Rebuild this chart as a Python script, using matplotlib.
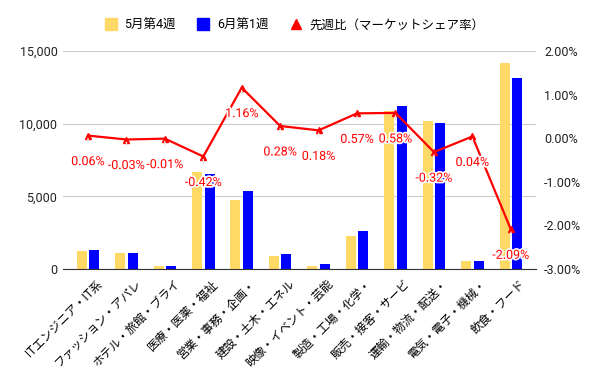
import matplotlib
matplotlib.use("Agg")
import matplotlib.pyplot as plt
import matplotlib.patheffects as pe
from matplotlib.lines import Line2D
from matplotlib.ticker import FuncFormatter, MultipleLocator
import numpy as np

plt.rcParams['font.family'] = ['Roboto', 'Noto Sans CJK JP', 'DejaVu Sans']

categories = ["ITエンジニア・IT系", "ファッション・アパレ", "ホテル・旅館・ブライ", "医療・医薬・福祉",
              "営業・事務・企画・", "建設・土木・エネル", "映像・イベント・芸能", "製造・工場・化学・",
              "販売・接客・サービ", "運輸・物流・配送・", "電気・電子・機械・", "飲食・フード"]
may_w4 = [1240, 1100, 200, 6680, 4750, 890, 210, 2270, 10870, 10180, 550, 14160]
jun_w1 = [1310, 1120, 220, 6540, 5370, 1030, 340, 2610, 11220, 10050, 550, 13120]
share_change = [0.06, -0.03, -0.01, -0.42, 1.16, 0.28, 0.18, 0.57, 0.58, -0.32, 0.04, -2.09]
series_names = ["5月第4週", "6月第1週", "先週比（マーケットシェア率）"]

c_yellow = "#FFD966"
c_blue = "#0000FF"
c_red = "#FF0000"

fig = plt.figure(figsize=(6, 3.71), dpi=100)
ax = fig.add_axes([0.105, 0.275, 0.788, 0.5875])
x = np.arange(len(categories))
w = 0.26
off = 0.163
ax.bar(x - off, may_w4, width=w, color=c_yellow, zorder=2)
ax.bar(x + off, jun_w1, width=w, color=c_blue, zorder=2)
ax.set_ylim(0, 15000)
ax.set_xlim(-0.65, len(categories) - 0.35)
ax.yaxis.set_major_locator(MultipleLocator(5000))
ax.yaxis.set_major_formatter(FuncFormatter(lambda v, p: f"{int(v):,}"))
ax.grid(axis='y', color='#cccccc', lw=0.8, zorder=0)
for s in ['top', 'right', 'left']:
    ax.spines[s].set_visible(False)
ax.spines['bottom'].set_color('#333333')
ax.spines['bottom'].set_zorder(3)
ax.tick_params(axis='y', length=0, labelsize=9, colors='#222222', pad=4)
ax.set_xticks(x)
ax.set_xticklabels(categories, rotation=45, ha='right', rotation_mode='anchor', fontsize=8.5)
ax.tick_params(axis='x', length=0, pad=6)
for lbl in ax.get_xticklabels():
    lbl.set_transform(lbl.get_transform() + matplotlib.transforms.ScaledTranslation(0.08, 0, fig.dpi_scale_trans))

ax2 = ax.twinx()
ax2.set_ylim(-3, 2)
ax2.yaxis.set_major_locator(MultipleLocator(1))
ax2.yaxis.set_major_formatter(FuncFormatter(lambda v, p: f"{v:.2f}%"))
ax2.tick_params(axis='y', length=0, labelsize=9, colors='#222222', pad=6)
for s in ['top', 'right', 'left', 'bottom']:
    ax2.spines[s].set_visible(False)
ax2.plot(x, share_change, color=c_red, lw=1.6, marker='^', ms=4, zorder=4)
for xi, v in zip(x, share_change):
    ax2.annotate(f"{v:.2f}%", xy=(xi, v), xytext=(0, -26), textcoords='offset pixels',
                 ha='center', va='center', fontsize=9, color=c_red,
                 path_effects=[pe.withStroke(linewidth=2.5, foreground='white')], zorder=5,
                 arrowprops=dict(arrowstyle='-', color='#ececec', lw=1, shrinkA=7, shrinkB=2))

handles = [Line2D([], [], marker='s', ls='none', color=c_yellow, ms=9),
           Line2D([], [], marker='s', ls='none', color=c_blue, ms=9),
           Line2D([], [], marker='^', ls='none', color=c_red, ms=7)]
fig.legend(handles, series_names, loc='center', bbox_to_anchor=(0.49, 1 - 25 / 371), ncol=3,
           frameon=False, fontsize=9, handletextpad=0.5, columnspacing=1.6, handlelength=1.2)

fig.savefig("out.png", dpi=100)
